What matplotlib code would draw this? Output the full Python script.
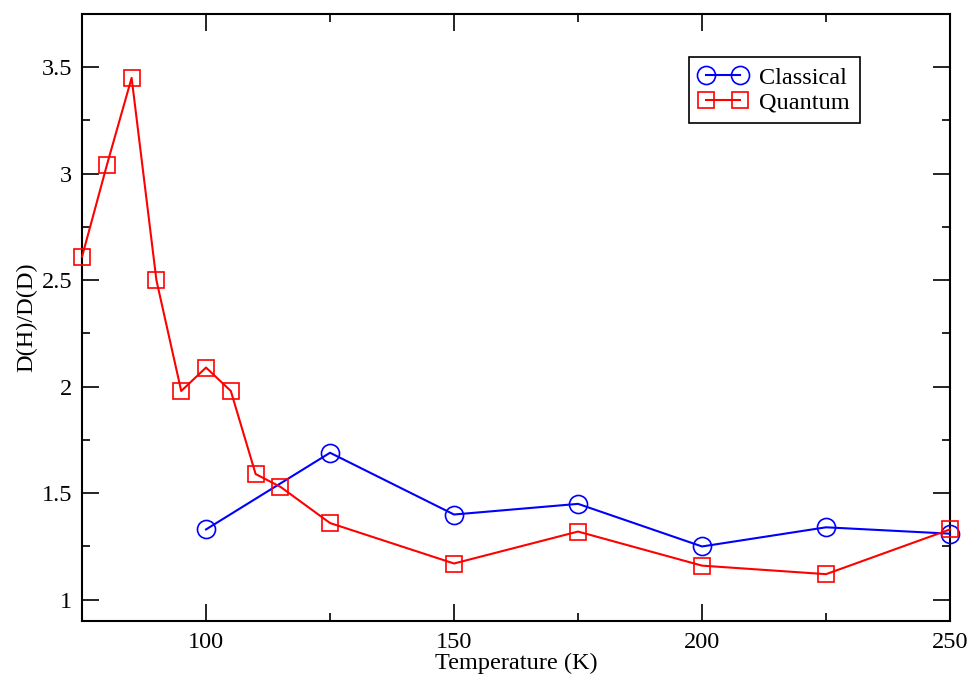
import numpy as np
import matplotlib
matplotlib.use("Agg")
from matplotlib import pyplot as plt
from matplotlib.ticker import MultipleLocator

# data
temp_quantum = [75, 80, 85, 90, 95, 100, 105, 110, 115, 125, 150, 175, 200, 225, 250]
ratio_quantum = [2.61, 3.04, 3.45, 2.50, 1.98, 2.09, 1.98, 1.59, 1.53, 1.36, 1.17, 1.32, 1.16, 1.12, 1.33]
temp_classical = [100, 125, 150, 175, 200, 225, 250]
ratio_classical = [1.33, 1.69, 1.40, 1.45, 1.25, 1.34, 1.31]

plt.rcParams['font.family'] = ['Liberation Serif', 'DejaVu Serif']

fig = plt.figure(figsize=(9.73, 6.79), dpi=100)
ax = fig.add_axes([0.0843, 0.0854, 0.8921, 0.8940])

ax.plot(temp_classical, ratio_classical, color='blue', lw=1.5, marker='o', ms=13,
        mfc='none', mec='blue', mew=1.2, label='Classical', clip_on=False, zorder=3)
ax.plot(temp_quantum, ratio_quantum, color='red', lw=1.5, marker='s', ms=11.5,
        mfc='none', mec='red', mew=1.2, label='Quantum', clip_on=False, zorder=3)

ax.set_xlim(75, 250)
ax.set_ylim(0.9, 3.75)
ax.xaxis.set_minor_locator(MultipleLocator(25))
ax.yaxis.set_minor_locator(MultipleLocator(0.25))
ax.set_xticks([100, 150, 200, 250])
ax.set_xticklabels(['100', '150', '200', '250'])
ax.set_yticks([1, 1.5, 2, 2.5, 3, 3.5])
ax.set_yticklabels(['1', '1.5', '2', '2.5', '3', '3.5'])

ax.tick_params(which='both', direction='in', top=True, right=True, labelsize=17.5, width=1.2)
ax.tick_params(which='major', length=12, pad=7)
ax.tick_params(which='minor', length=6)
ax.tick_params(axis='x', which='major', pad=8)
for s in ax.spines.values():
    s.set_linewidth(1.5)

ax.set_xlabel('Temperature (K)', fontsize=17.5, labelpad=0)
ax.set_ylabel('D(H)/D(D)', fontsize=17.5, labelpad=3)

leg = ax.legend(loc='upper left', bbox_to_anchor=(0.699, 0.929), fontsize=17.5,
                numpoints=2, handlelength=2.0, handletextpad=0.5, borderpad=0.4,
                labelspacing=0.12, fancybox=False, framealpha=1, borderaxespad=0)
leg.get_frame().set_edgecolor('black')
leg.get_frame().set_linewidth(1.2)

fig.savefig('out.png', dpi=100)
